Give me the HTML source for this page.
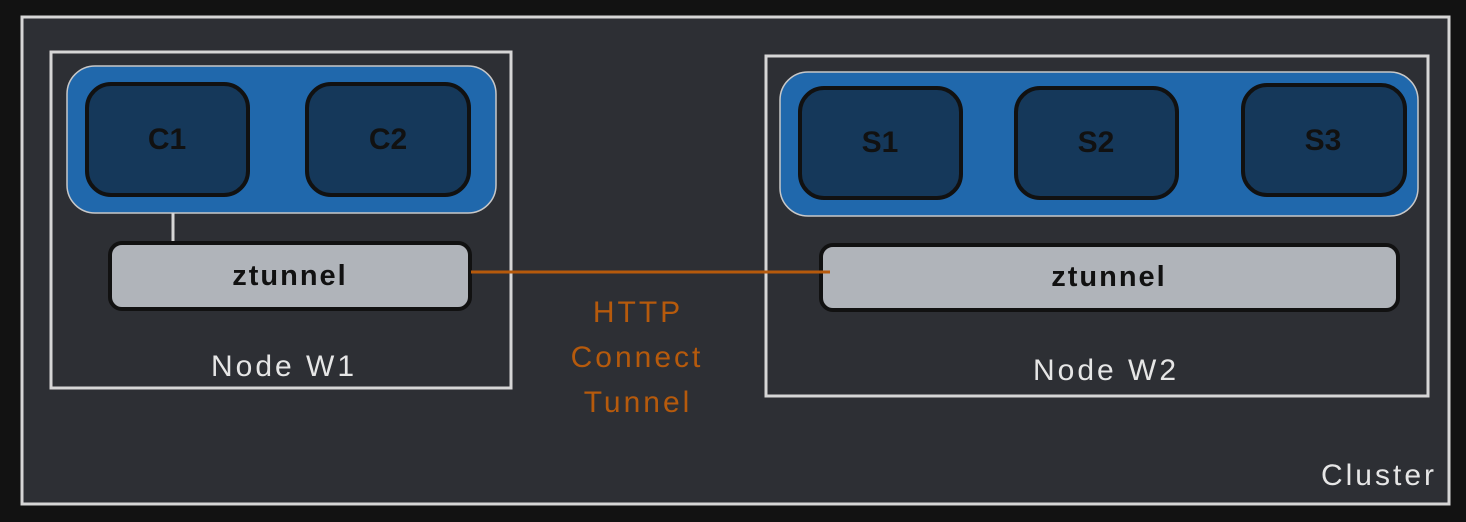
<!DOCTYPE html>
<html><head><meta charset="utf-8"><style>
html,body{margin:0;padding:0;background:#121212;}
svg{display:block}
text{font-family:"Liberation Sans",sans-serif;}
</style></head><body>
<svg width="1466" height="522" viewBox="0 0 1466 522" xmlns="http://www.w3.org/2000/svg">
<rect x="0" y="0" width="1466" height="522" fill="#121212"/>
<g>
<rect x="22" y="17" width="1427" height="487" fill="#2d2f34" stroke="#d6d6d6" stroke-width="3"/>
<text x="1437" y="485" text-anchor="end" font-size="30" letter-spacing="3" fill="#e6e6e6">Cluster</text>
</g>
<g>
<rect x="51" y="52" width="460" height="336" fill="none" stroke="#d6d6d6" stroke-width="3"/>
<rect x="67" y="66" width="429" height="147" rx="28" fill="#2068ac" stroke="#c8c8c8" stroke-width="1.5"/>
<rect x="87" y="84" width="161" height="111" rx="24" fill="#15385a" stroke="#111" stroke-width="4"/>
<text x="167" y="149" text-anchor="middle" font-size="30" font-weight="bold" fill="#111">C1</text>
<rect x="307" y="84" width="162" height="111" rx="24" fill="#15385a" stroke="#111" stroke-width="4"/>
<text x="388" y="149" text-anchor="middle" font-size="30" font-weight="bold" fill="#111">C2</text>
<line x1="173" y1="213" x2="173" y2="246" stroke="#d6d6d6" stroke-width="3"/>
<rect x="110" y="243" width="360" height="66" rx="12" fill="#b0b4ba" stroke="#111" stroke-width="4"/>
<text x="290" y="285" text-anchor="middle" font-size="29" font-weight="bold" letter-spacing="2" fill="#111">ztunnel</text>
<text x="284" y="376" text-anchor="middle" font-size="30" letter-spacing="3" fill="#e6e6e6">Node W1</text>
</g>
<g>
<rect x="766" y="56" width="662" height="340" fill="none" stroke="#d6d6d6" stroke-width="3"/>
<rect x="780" y="72" width="638" height="144" rx="28" fill="#2068ac" stroke="#c8c8c8" stroke-width="1.5"/>
<rect x="800" y="88" width="161" height="110" rx="24" fill="#15385a" stroke="#111" stroke-width="4"/>
<text x="880" y="152" text-anchor="middle" font-size="30" font-weight="bold" fill="#111">S1</text>
<rect x="1016" y="88" width="161" height="110" rx="24" fill="#15385a" stroke="#111" stroke-width="4"/>
<text x="1096" y="152" text-anchor="middle" font-size="30" font-weight="bold" fill="#111">S2</text>
<rect x="1243" y="85" width="162" height="110" rx="24" fill="#15385a" stroke="#111" stroke-width="4"/>
<text x="1323" y="150" text-anchor="middle" font-size="30" font-weight="bold" fill="#111">S3</text>
<rect x="821" y="245" width="577" height="65" rx="12" fill="#b0b4ba" stroke="#111" stroke-width="4"/>
<text x="1109" y="286" text-anchor="middle" font-size="29" font-weight="bold" letter-spacing="2" fill="#111">ztunnel</text>
<text x="1106" y="380" text-anchor="middle" font-size="30" letter-spacing="3" fill="#e6e6e6">Node W2</text>
</g>
<line x1="471" y1="272" x2="830" y2="272" stroke="#b65a0c" stroke-width="3"/>
<g font-size="30" letter-spacing="3" fill="#b65a0c" text-anchor="middle">
<text x="638" y="322">HTTP</text>
<text x="637" y="367">Connect</text>
<text x="638" y="412">Tunnel</text>
</g>
</svg>
</body></html>
